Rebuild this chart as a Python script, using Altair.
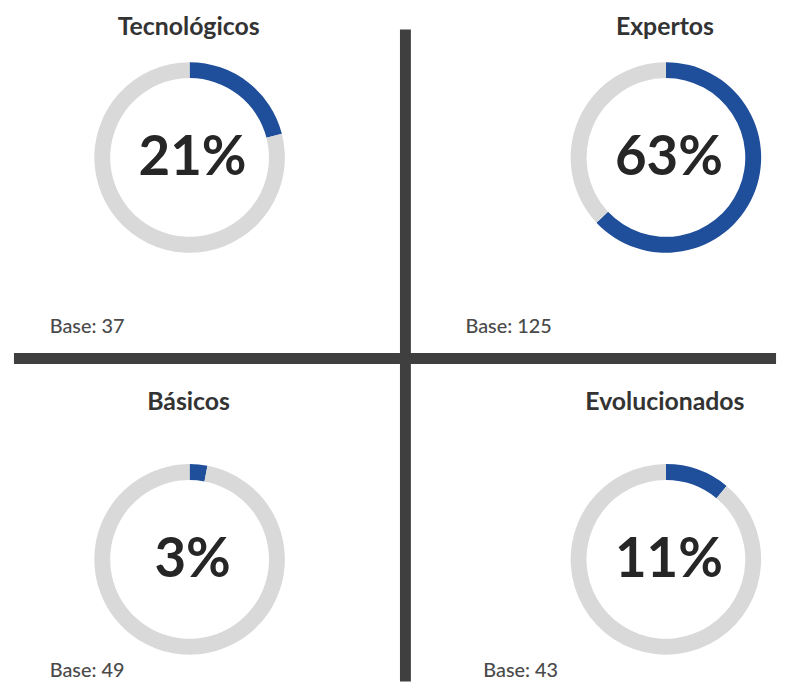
import math
import altair as alt
import pandas as pd

# ---- data ----
grupos = ["Tecnológicos", "Expertos", "Básicos", "Evolucionados"]
porcentajes = [21, 63, 3, 11]
bases = [37, 125, 49, 43]
columnas = ["izq", "der", "izq", "der"]
filas = ["sup", "sup", "inf", "inf"]

# ---- styles ----
AZUL = "#1F4E9A"
GRIS = "#D9D9D9"
TEXTO = "#262626"
TEXTO_BASE = "#4A4A4A"
LINEA = "#3F3F3F"
FUENTE = "Lato"

# ---- tables built from the arrays ----
filas_arcos = []
for g, p, c, f in zip(grupos, porcentajes, columnas, filas):
    filas_arcos.append(dict(grupo=g, parte="Sí", inicio=0, fin=p, col=c, fila=f))
    filas_arcos.append(dict(grupo=g, parte="Resto", inicio=p, fin=100, col=c, fila=f))
arcos = pd.DataFrame(filas_arcos)

info = pd.DataFrame(dict(grupo=grupos, pct=porcentajes, base=bases, col=columnas, fila=filas))
info["etiqueta"] = info["pct"].astype(str) + "%"
info["base_txt"] = "Base: " + info["base"].astype(str)

una = pd.DataFrame({"k": [0]})


def xs(r):
    return alt.X("col:N", scale=alt.Scale(type="point", domain=["izq", "der"], range=r, padding=0), axis=None)


def ys(r):
    return alt.Y("fila:N", scale=alt.Scale(type="point", domain=["sup", "inf"], range=r, padding=0), axis=None)


DONA_X = [183, 663]
DONA_Y = [148, 553]

donas = alt.Chart(arcos).mark_arc(outerRadius=96, innerRadius=80).encode(
    x=xs(DONA_X),
    y=ys(DONA_Y),
    theta=alt.Theta("inicio:Q", scale=alt.Scale(domain=[0, 100], range=[0, 2 * math.pi])),
    theta2="fin:Q",
    color=alt.Color("parte:N", scale=alt.Scale(domain=["Sí", "Resto"], range=[AZUL, GRIS]), legend=None),
)

pcts = alt.Chart(info).mark_text(
    font=FUENTE, fontSize=55, fontWeight="bold", color=TEXTO, align="center", baseline="middle", dx=3, dy=1
).encode(x=xs(DONA_X), y=ys(DONA_Y), text="etiqueta:N")

titulos = alt.Chart(info).mark_text(
    font=FUENTE, fontSize=25, fontWeight="bold", color="#333333", align="center", baseline="alphabetic"
).encode(x=xs([182, 662]), y=ys([25, 402]), text="grupo:N")

base_sup = alt.Chart(info).transform_filter(alt.datum.fila == "sup").mark_text(
    font=FUENTE, fontSize=20, fontWeight=500, color=TEXTO_BASE, align="left", baseline="middle"
).encode(x=xs([42, 461]), y=ys([319, 666]), text="base_txt:N")

base_inf = alt.Chart(info).transform_filter(alt.datum.fila == "inf").mark_text(
    font=FUENTE, fontSize=20, fontWeight=500, color=TEXTO_BASE, align="left", baseline="middle"
).encode(x=xs([42, 479]), y=ys([319, 666]), text="base_txt:N")

linea_v = alt.Chart(una).mark_rule(color=LINEA, strokeWidth=11, strokeCap="butt").encode(
    x=alt.value(400.5), y=alt.value(19), y2=alt.value(676)
)
linea_h = alt.Chart(una).mark_rule(color=LINEA, strokeWidth=11, strokeCap="butt").encode(
    y=alt.value(350.5), x=alt.value(6), x2=alt.value(774)
)

chart = (
    alt.layer(linea_v, linea_h, donas, pcts, titulos, base_sup, base_inf)
    .resolve_scale(x="independent", y="independent")
    .properties(width=774, height=676, padding=0, background="white")
    .configure_view(stroke=None)
)

chart.save("out.html", embed_options={"renderer": "svg", "actions": False})
